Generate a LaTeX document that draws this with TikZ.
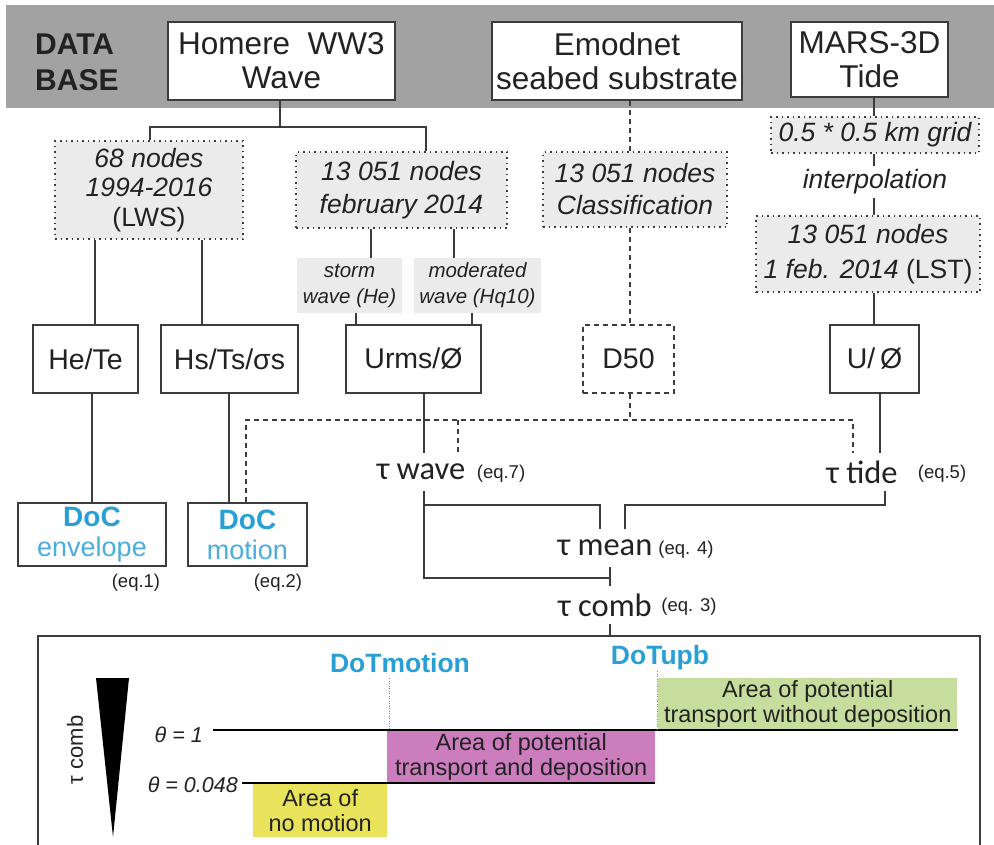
\documentclass[tikz,border=0pt]{standalone}
\usepackage{fontspec}
\setmainfont{Liberation Sans}
\newfontfamily\taufont{Carlito}
\newcommand{\fsz}[2]{\fontsize{#1}{#2}\selectfont}
\definecolor{band}{HTML}{A2A2A2}
\definecolor{boxgray}{HTML}{EBEBEB}
\definecolor{lc}{HTML}{3C3C3C}
\definecolor{txt}{HTML}{222222}
\definecolor{docblue}{HTML}{2A9FD6}
\definecolor{docblueb}{HTML}{4BADDB}
\definecolor{ayel}{HTML}{E8E35A}
\definecolor{amag}{HTML}{CB7DBE}
\definecolor{agrn}{HTML}{C6DD9E}
\tikzset{
  ln/.style={draw=lc, line width=1.3pt},
  dln/.style={draw=lc, line width=1.3pt, dash pattern=on 5pt off 4pt},
  dotl/.style={draw=gray, line width=0.9pt, dash pattern=on 1pt off 1.5pt},
  wbox/.style={draw=lc, line width=1.5pt, fill=white, inner sep=0pt, align=center, text=txt},
  gbox/.style={draw=lc, line width=1.5pt, dash pattern=on 1.5pt off 4pt, fill=boxgray, inner sep=0pt, align=center, text=txt},
  sbox/.style={fill=boxgray, inner sep=0pt, align=center, text=txt},
  taunode/.style={font=\taufont\fsz{32.5}{34}, inner sep=0pt, minimum height=38, text=txt},
  eqlab/.style={font=\fsz{18.5}{20}, inner sep=0pt, text=txt},
  area/.style={inner sep=0pt, align=center, font=\fsz{23.5}{25}, text=txt, anchor=north west},
  thlab/.style={font=\itshape\fsz{21.5}{22}, inner sep=0pt, anchor=east, text=txt},
  thline/.style={draw=black, line width=2.6pt},
  dotlab/.style={font=\bfseries\fsz{26.5}{28}, text=docblue, inner sep=0pt}
}
\begin{document}
\begin{tikzpicture}[x=1pt,y=-1pt]
\useasboundingbox (0,0) rectangle (994,844);
\fill[white] (0,0) rectangle (994,844);
\fill[band] (6,5) rectangle (994,108);

% ---- data base row
\node[font=\bfseries\fsz{30}{36}, align=left, anchor=west, inner sep=0pt, text=txt] (db) at (35,62) {DATA\\BASE};
\node[wbox, minimum width=227, minimum height=78, font=\fsz{31.5}{34}] (homere) at (281.5,61) {Homere~~WW3\\Wave};
\node[wbox, line width=2.3pt, minimum width=250, minimum height=78, font=\fsz{31.5}{34}] (emod) at (617,61) {Emodnet\\seabed substrate};
\node[wbox, minimum width=157, minimum height=75, font=\fsz{31.5}{34}] (mars) at (869.5,59.5) {MARS-3D\\Tide};

% ---- second row
\node[gbox, minimum width=188, minimum height=98, text depth=6pt, font=\itshape\fsz{26.5}{29.5}] (n68) at (149,190) {68 nodes\\1994-2016\\{\upshape(LWS)}};
\node[gbox, minimum width=211, minimum height=76, font=\itshape\fsz{26.5}{33}] (nfeb) at (401.5,190) {13 051 nodes\\february 2014};
\node[gbox, minimum width=184, minimum height=75, font=\itshape\fsz{26.5}{32}] (nclass) at (635,189.5) {13 051 nodes\\Classification};
\node[gbox, minimum width=208, minimum height=36, font=\itshape\fsz{26.5}{30}] (grid) at (875,135) {0.5 * 0.5 km grid};
\node[font=\itshape\fsz{26.5}{30}, inner sep=3pt, text=txt] (interp) at (875,182) {interpolation};
\node[gbox, minimum width=224, minimum height=76, font=\itshape\fsz{26.5}{35}] (lst) at (868,254) {13 051 nodes\\1 feb. 2014 {\upshape(LST)}};

\node[sbox, minimum width=105, minimum height=55, font=\itshape\fsz{20.5}{26}] (storm) at (349.5,285.5) {storm\\wave (He)};
\node[sbox, minimum width=127, minimum height=55, font=\itshape\fsz{20.5}{26}] (mod) at (477.5,285.5) {moderated\\wave (Hq10)};

% ---- third row
\node[wbox, minimum width=105, minimum height=68, font=\fsz{28.5}{30}] (hete) at (85.5,359) {He/Te};
\node[wbox, minimum width=137, minimum height=68, font=\fsz{28.5}{30}] (hs) at (229.5,359) {Hs/Ts/σs};
\node[wbox, minimum width=135, minimum height=68, font=\fsz{28.5}{30}] (urms) at (413.5,359) {Urms/Ø};
\node[wbox, dash pattern=on 5pt off 4pt, minimum width=91, minimum height=68, font=\fsz{28.5}{30}] (d50) at (628.5,359) {D50};
\node[wbox, minimum width=89, minimum height=68, font=\fsz{28.5}{30}] (uo) at (874.5,359) {U/\,Ø};

% ---- DoC
\node[wbox, minimum width=148, minimum height=63, font=\fsz{27}{30}] (doce) at (92,534.5) {\textcolor{docblue}{\bfseries\fsz{28}{30}DoC}\\\textcolor{docblueb}{envelope}};
\node[wbox, minimum width=119, minimum height=63, font=\fsz{27}{30}] (docm) at (247.5,534.5) {\textcolor{docblue}{\bfseries\fsz{28}{30}DoC}\\\textcolor{docblueb}{motion}};
\node[eqlab] (eq1) at (136,583) {(eq.1)};
\node[eqlab] (eq2) at (278,583) {(eq.2)};

% ---- tau
\node[taunode] (twave) at (421,472) {τ wave};
\node[eqlab] (eq7) at (501,474) {(eq.7)};
\node[taunode] (ttide) at (862,472) {τ tide};
\node[eqlab] (eq5) at (942,474) {(eq.5)};
\node[taunode] (tmean) at (605,548) {τ mean};
\node[eqlab] (eq4) at (686,550) {(eq. 4)};
\node[taunode] (tcomb) at (605,605) {τ comb};
\node[eqlab] (eq3) at (689,607) {(eq. 3)};

% ---- coordinates
\coordinate (hsplit) at (280,127);
\coordinate (xa) at (150,0);  \coordinate (xb) at (426,0);
\coordinate (x630) at (630,0); \coordinate (x874) at (874,0);
\coordinate (x95) at (95,0);  \coordinate (x202) at (202,0);
\coordinate (x371) at (371,0); \coordinate (x454) at (454,0);
\coordinate (x356) at (356,0); \coordinate (x472) at (472,0);
\coordinate (x92) at (92,0);  \coordinate (x229) at (229,0);
\coordinate (x424) at (424,0); \coordinate (x880) at (880,0);
\coordinate (x246) at (246,0); \coordinate (x458) at (458,0);
\coordinate (x853) at (853,0); \coordinate (x885) at (885,0);
\coordinate (x600) at (600,0); \coordinate (x625) at (625,0);
\coordinate (dj) at (630,420);
\coordinate (wj) at (424,505);
\coordinate (tj) at (885,505);
\coordinate (cj) at (610,578);
\coordinate (ptop) at (610,636);

% ---- connectors
\draw[ln] (homere.south -| hsplit) -- (hsplit);
\draw[ln] (n68.north -| xa) |- (hsplit) -| (nfeb.north -| xb);
\draw[dln] (emod.south -| x630) -- (nclass.north -| x630);
\draw[dln] (nclass.south -| x630) -- (d50.north -| x630);
\draw[ln] (mars.south -| x874) -- (grid.north -| x874);
\draw[ln] (grid.south -| x874) -- (interp.north -| x874);
\draw[ln] (interp.south -| x874) -- (lst.north -| x874);
\draw[ln] (lst.south -| x874) -- (uo.north -| x874);
\draw[ln] (n68.south -| x95) -- (hete.north -| x95);
\draw[ln] (n68.south -| x202) -- (hs.north -| x202);
\draw[ln] (nfeb.south -| x371) -- (storm.north -| x371);
\draw[ln] (nfeb.south -| x454) -- (mod.north -| x454);
\draw[ln] (storm.south -| x356) -- (urms.north -| x356);
\draw[ln] (mod.south -| x472) -- (urms.north -| x472);
\draw[ln] (hete.south -| x92) -- (doce.north -| x92);
\draw[ln] (hs.south -| x229) -- (docm.north -| x229);
\draw[ln] (urms.south -| x424) -- (twave.north -| x424);
\draw[ln] (uo.south -| x880) -- (ttide.north -| x880);
\draw[dln] (d50.south -| dj) -- (dj);
\draw[dln] (docm.north -| x246) |- (dj) -| (ttide.north -| x853);
\draw[dln] (x458 |- dj) -- (twave.north -| x458);
\draw[ln] (twave.south -| x424) |- (cj);
\draw[ln] (wj) -| (tmean.north -| x600);
\draw[ln] (ttide.south -| x885) -- (tj) -| (tmean.north -| x625);
\draw[ln] (tmean.south -| cj) -- (tcomb.north -| cj);
\draw[ln] (tcomb.south -| ptop) -- (ptop);

% ---- bottom panel
\draw[ln] (38,850) -- (38,636) -- (ptop) -- (980,636) -- (980,850);
\fill[black] (96,678) -- (129,678) -- (113,837) -- cycle;
\node[rotate=90, font=\fsz{22}{22}, inner sep=0pt, text=txt] (tcl) at (75,750) {τ comb};

\node[area, fill=ayel, minimum width=134, minimum height=53] (ay) at (253,784) {Area of\\no motion};
\node[area, fill=amag, minimum width=268, minimum height=52] (am) at (387,731) {Area of potential\\transport and deposition};
\node[area, fill=agrn, minimum width=299, minimum height=51] (ag) at (658,678) {Area of potential\\transport without deposition};

\node[thlab] (th1) at (203,735) {θ = 1};
\node[thlab] (th2) at (238,785) {θ = 0.048};
\coordinate (l1a) at (213,730); \coordinate (l1b) at (958,730);
\coordinate (l2a) at (242,783); \coordinate (l2b) at (655,783);
\draw[thline] (l1a) -- (l1b);
\draw[thline] (l2a) -- (l2b);

\node[dotlab] (dotm) at (400,663) {DoTmotion};
\node[dotlab] (dotu) at (660,658) {DoTupb};
\coordinate (x389) at (389,0); \coordinate (x657) at (657,0);
\draw[dotl] (x389 |- 0,678) -- (am.north -| x389);
\draw[dotl] (x657 |- 0,671) -- (ag.south -| x657);
\end{tikzpicture}
\end{document}
